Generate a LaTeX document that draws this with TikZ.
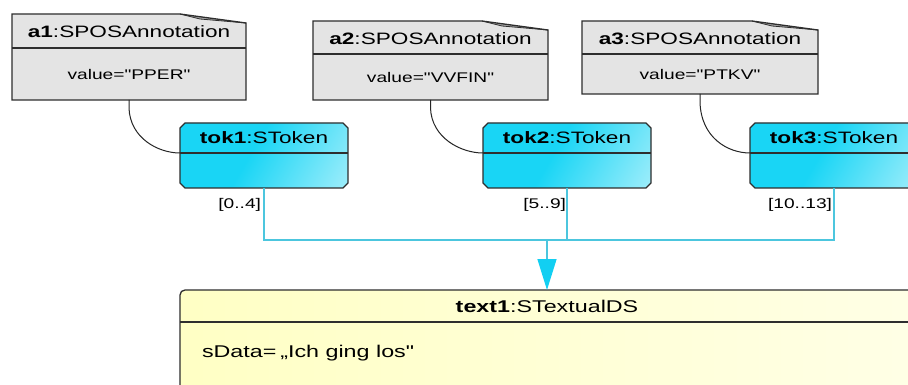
\documentclass[tikz,border=0pt]{standalone}
\usepackage{fontspec}
\setmainfont{Liberation Sans}[Ligatures=TeXOff]
\usepackage{graphicx}
\usetikzlibrary{arrows.meta,calc}
\definecolor{annfill}{HTML}{E4E4E4}
\definecolor{foldc}{HTML}{A8A8A8}
\definecolor{edge}{HTML}{2E2E2E}
\definecolor{tokA}{HTML}{19D5F5}
\definecolor{tokB}{HTML}{D4F7FD}
\definecolor{txtA}{HTML}{FFFFB4}
\definecolor{txtB}{HTML}{FFFFF6}
\definecolor{busc}{HTML}{4CC6DE}
\definecolor{arrowc}{HTML}{12CFF2}
\pgfdeclarehorizontalshading{tokshade}{100bp}{color(0bp)=(tokA); color(45bp)=(tokA); color(100bp)=(tokB)}
\pgfdeclarehorizontalshading{txtshade}{100bp}{color(0bp)=(txtA); color(100bp)=(txtB)}
\newcommand{\sx}[1]{\scalebox{1.37}[1]{#1}}
\newcommand{\fs}[1]{\fontsize{#1}{#1}\selectfont}
\tikzset{
  part/.style={inner sep=0pt, outer sep=0pt, text=black},
  annhead/.style={part, font=\fs{16.5}},
  annval/.style={part, font=\fs{14}},
  tokhead/.style={part, font=\fs{16.5}},
  lbl/.style={part, font=\fs{14}, anchor=east},
  txthead/.style={part, font=\fs{17}},
  outline/.style={draw=edge, line width=1.3pt},
  assoc/.style={draw=black!85, line width=1pt},
  busline/.style={draw=busc, line width=1.4pt},
}
% name, L, R, T, D, B, head, value
\newcommand{\annot}[8]{%
  \fill[annfill] (#2,#4) -- ({#3-66},#4) -- (#3,{#4+9}) -- (#3,#6) -- (#2,#6) -- cycle;
  \fill[foldc] ({#3-66},#4) -- (#3,{#4+9}) -- ({#3-46},{#4+5}) -- cycle;
  \draw[outline] (#2,#4) -- ({#3-66},#4) -- (#3,{#4+9}) -- (#3,#6) -- (#2,#6) -- cycle;
  \draw[edge, line width=0.8pt] ({#3-66},#4) -- ({#3-46},{#4+5}) -- (#3,{#4+9});
  \draw[outline] (#2,#5) -- (#3,#5);
  \node[annhead, minimum width={#3-#2}, minimum height={#5-#4}] (#1h) at ({(#2+#3)/2},{(#4+#5)/2+1}) {\sx{#7}};
  \node[annval, minimum width={#3-#2}, minimum height={#6-#5}] (#1) at ({(#2+#3)/2},{(#5+#6)/2}) {\sx{value="#8"}};
}
% name, L, head
\newcommand{\tok}[3]{%
  \shade[shading=tokshade, shading angle=-30] ({#2+5},123) -- ({#2+163},123) -- ({#2+168},128) -- ({#2+168},183) -- ({#2+163},188) -- ({#2+5},188) -- (#2,183) -- (#2,128) -- cycle;
  \draw[outline] ({#2+5},123) -- ({#2+163},123) -- ({#2+168},128) -- ({#2+168},183) -- ({#2+163},188) -- ({#2+5},188) -- (#2,183) -- (#2,128) -- cycle;
  \draw[outline] (#2,153) -- ({#2+168},153);
  \node[tokhead, minimum width=168, minimum height=30] (#1h) at ({#2+84},138) {\sx{#3}};
  \node[part, minimum width=168, minimum height=35] (#1) at ({#2+84},170.5) {};
}
\begin{document}
\begin{tikzpicture}[x=1pt,y=-1pt]
\useasboundingbox (0,0) rectangle (908,385);
\fill[white] (0,0) rectangle (908,385);
\clip (0,0) rectangle (908,385);

\annot{a1}{12}{246}{14}{48}{100}{\textbf{a1}:SPOSAnnotation}{PPER}
\annot{a2}{313}{548}{21}{54}{100}{\textbf{a2}:SPOSAnnotation}{VVFIN}
\annot{a3}{582}{818}{21}{54}{94}{\textbf{a3}:SPOSAnnotation}{PTKV}

\tok{tok1}{180}{\textbf{tok1}:SToken}
\tok{tok2}{483}{\textbf{tok2}:SToken}
\tok{tok3}{750}{\textbf{tok3}:SToken}

% text1
\shade[shading=txtshade, rounded corners=5] (180,290) rectangle (914,420);
\draw[outline, rounded corners=5] (180,290) rectangle (914,420);
\draw[outline] (180,322) -- (914,322);
\node[txthead, minimum width=734, minimum height=32] (text1h) at (547,306) {\sx{\textbf{text1}:STextualDS}};
\node[part, font=\fs{17}, anchor=west] (sdata) at (202,353) {\sx{sData=\,„Ich ging los"}};

% associations
\draw[assoc] (a1.south) -- ++(0,8) .. controls +(1,30) and +(-22,0) .. (tok1.north west);
\draw[assoc] (a2.south) -- ++(0,8) .. controls +(1,30) and +(-22,0) .. (tok2.north west);
\draw[assoc] (a3.south) -- ++(0,8) .. controls +(1,36) and +(-22,0) .. (tok3.north west);

% bus
\coordinate (busy) at (0,240);
\draw[busline] (tok1.south) |- (tok3.south |- busy) -- (tok3.south);
\draw[busline] (tok2.south) -- (tok2.south |- busy);
\draw[busline, -{Triangle[length=31pt,width=19pt,color=arrowc,fill=arrowc]}] (text1h.north |- busy) -- (text1h.north);

% labels
\node[lbl] (r1) at ($(tok1.south)+(-3,17)$) {\sx{[0..4]}};
\node[lbl] (r2) at ($(tok2.south)+(-1,17)$) {\sx{[5..9]}};
\node[lbl] (r3) at ($(tok3.south)+(-2,17)$) {\sx{[10..13]}};
\end{tikzpicture}
\end{document}
